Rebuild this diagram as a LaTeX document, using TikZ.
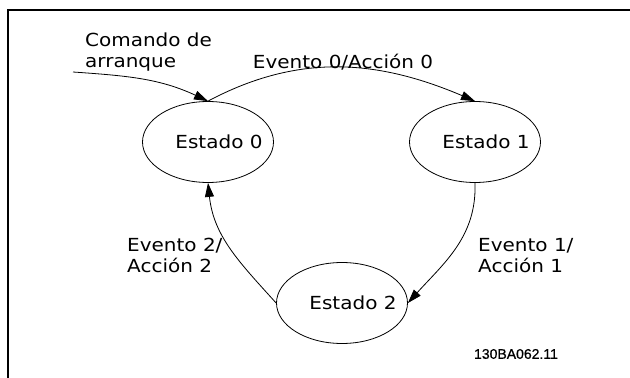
\documentclass[tikz,border=0pt]{standalone}
\usepackage{fontspec}
\setmainfont{DejaVu Sans}[FakeStretch=1.11]
\newfontfamily\codefont{Liberation Sans}[FakeBold=0.6]
\usepackage{tikz}
\usetikzlibrary{positioning, shapes.geometric, arrows.meta}

\begin{document}
\begin{tikzpicture}[x=1pt, y=1pt,
    estado/.style={draw, ellipse, line width=0.8pt, minimum width=131pt,
                   minimum height=81pt, inner xsep=-20pt, inner ysep=0pt,
                   execute at begin node={\hspace*{22pt}},
                   font=\fontsize{18}{21}\selectfont},
    etiqueta/.style={align=left, inner sep=0pt,
                     font=\fontsize{18}{21}\selectfont},
    flecha/.style={line width=0.8pt, -{Triangle[length=14pt, width=9pt]}}]
    \useasboundingbox (0,0) rectangle (630,378);
    % marco
    \draw[line width=1.5pt] (8,0) -- (8,368) -- (630,368);
    % estados
    \node[estado] (e0) at (208,236) {Estado 0};
    \node[estado] (e1) at (475,236) {Estado 1};
    \node[estado] (e2) at (342,75) {Estado 2};
    \coordinate (inicio) at (73,306);
    % transiciones
    \draw[flecha] (inicio) to[out=-4, in=155] (e0.north);
    \draw[flecha] (e0.north) to[out=28, in=157] (e1.north);
    \draw[flecha] (e1.south) to[out=-88, in=48] (e2.east);
    \draw[flecha] (e2.west) to[out=132, in=-84] (e0.south);
    % textos
    \node[etiqueta, anchor=west] (tarranque) at (85,326) {Comando de\\arranque};
    \node[etiqueta] (t0) at (343,316) {Evento 0/Acción 0};
    \node[etiqueta, anchor=west] (t1) at (478,122) {Evento 1/\\Acción 1};
    \node[etiqueta, anchor=west] (t2) at (127,123) {Evento 2/\\Acción 2};
    \node[inner sep=0pt, font=\codefont\fontsize{14}{16}\selectfont]
        (codigo) at (516,24) {130BA062.11};
\end{tikzpicture}
\end{document}
